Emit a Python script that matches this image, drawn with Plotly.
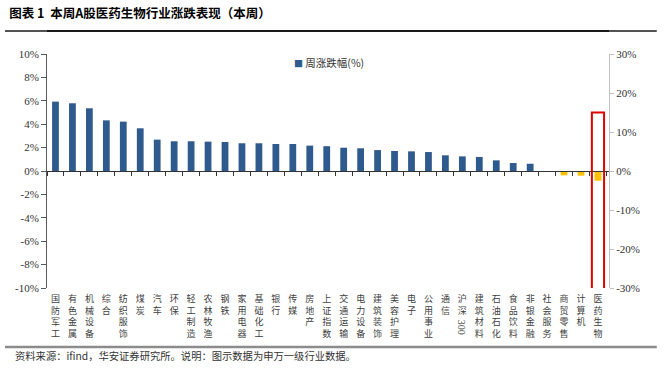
import plotly.graph_objects as go

categories = ["国防军工", "有色金属", "机械设备", "综合", "纺织服饰", "煤炭", "汽车", "环保",
              "轻工制造", "农林牧渔", "钢铁", "家用电器", "基础化工", "银行", "传媒", "房地产",
              "上证指数", "交通运输", "电力设备", "建筑装饰", "美容护理", "电子", "公用事业", "通信",
              "沪深300", "建筑材料", "石油石化", "食品饮料", "非银金融", "社会服务", "商贸零售",
              "计算机", "医药生物"]
weekly_change = [5.93, 5.79, 5.36, 4.33, 4.22, 3.65, 2.68, 2.54,
                 2.54, 2.51, 2.48, 2.37, 2.37, 2.31, 2.31, 2.17,
                 2.12, 1.99, 1.94, 1.79, 1.71, 1.68, 1.62, 1.34,
                 1.25, 1.20, 0.91, 0.68, 0.62, -0.08, -0.37,
                 -0.40, -0.83]
y_tick_vals = [10, 8, 6, 4, 2, 0, -2, -4, -6, -8, -10]
y_tick_text = ["10%", "8%", "6%", "4%", "2%", "0%", "-2%", "-4%", "-6%", "-8%", "-10%"]
y2_tick_vals = [30, 20, 10, 0, -10, -20, -30]
y2_tick_text = ["30%", "20%", "10%", "0%", "-10%", "-20%", "-30%"]
series_name = "周涨跌幅(%)"
highlight = "医药生物"

BLUE = "#2F5A8E"
YELLOW = "#FFC000"

# paper area spans y=31px (title rule) to y=288px; the axes occupy the lower 234px
PAPER_H = 257.0
Y_DOMAIN_TOP = 234.0 / PAPER_H


def py(px):
    """pixel row -> paper fraction"""
    return (288.0 - px) / PAPER_H


def stack(label):
    # CJK characters stacked vertically; a Latin/digit run is drawn rotated separately
    cjk = "".join(ch for ch in label if not ch.isdigit())
    return "<br>".join(list(cjk))


def digit_run(label):
    return "".join(ch for ch in label if ch.isdigit())


tick_text = [stack(c) for c in categories]
colors = [BLUE if v >= 0 else YELLOW for v in weekly_change]

fig = go.Figure()
fig.add_trace(go.Bar(x=categories, y=weekly_change, marker=dict(color=colors, line=dict(width=0)),
                     width=0.4, showlegend=False, hoverinfo="skip"))
# helper traces for the zero-line axis, the title-rule axis and the right axis
fig.add_trace(go.Scatter(x=categories, y=weekly_change, xaxis="x2", yaxis="y", mode="markers",
                         marker=dict(opacity=0), showlegend=False, hoverinfo="skip"))
fig.add_trace(go.Scatter(x=categories, y=weekly_change, xaxis="x3", yaxis="y", mode="markers",
                         marker=dict(opacity=0), showlegend=False, hoverinfo="skip"))
fig.add_trace(go.Scatter(x=categories, y=[v * 3 for v in weekly_change], yaxis="y2", mode="markers",
                         marker=dict(opacity=0), showlegend=False, hoverinfo="skip"))

n = len(categories)
xr = [-0.5, n - 0.5 + 0.15]

fig.update_layout(
    width=664, height=377,
    margin=dict(l=47, r=55, t=31, b=89),
    paper_bgcolor="white", plot_bgcolor="rgba(0,0,0,0)",
    showlegend=False,
    xaxis=dict(type="category", categoryorder="array", categoryarray=categories, range=xr,
               tickvals=categories, ticktext=tick_text, showline=False, showgrid=False,
               zeroline=False, ticks="", ticklabelstandoff=4,
               tickfont=dict(family="Noto Sans CJK SC", size=9, color="#404040")),
    xaxis2=dict(type="category", categoryorder="array", categoryarray=categories, range=xr,
                overlaying="x", anchor="free", position=Y_DOMAIN_TOP / 2, side="bottom",
                showline=True, linecolor="#333333", linewidth=1, ticks="outside",
                tickson="boundaries", ticklen=4, tickcolor="#333333", showticklabels=False,
                showgrid=False, zeroline=False),
    xaxis3=dict(type="category", categoryorder="array", categoryarray=categories, range=xr,
                overlaying="x", anchor="free", position=1.0, side="top",
                showline=True, linecolor="#1A1A1A", linewidth=1.5, ticks="",
                showticklabels=False, showgrid=False, zeroline=False),
    yaxis=dict(range=[-10, 10], domain=[0, Y_DOMAIN_TOP], tickvals=y_tick_vals, ticktext=y_tick_text,
               showline=True, linecolor="#595959", linewidth=1, ticks="outside", ticklen=5,
               tickcolor="#595959", showgrid=False, zeroline=False,
               tickfont=dict(family="Liberation Serif", size=11, color="#333333")),
    yaxis2=dict(range=[-30, 30], domain=[0, Y_DOMAIN_TOP], tickvals=y2_tick_vals,
                ticktext=y2_tick_text, overlaying="y", anchor="x",
                side="right", showline=True, linecolor="#BFBFBF", linewidth=1, ticks="outside",
                ticklen=4, tickcolor="#BFBFBF", showgrid=False, zeroline=False,
                tickfont=dict(family="Liberation Serif", size=11, color="#333333")),
    title=dict(text="图表 1  本周A股医药生物行业涨跌表现（本周）", x=0.014, xanchor="left",
               y=0.964, yanchor="middle", xref="container", yref="container",
               font=dict(family="Noto Sans CJK SC", size=12.5, color="#000000", weight="bold")),
)

# rotated digit runs (e.g. "300" in 沪深300)
for c in categories:
    d = digit_run(c)
    if d:
        nlines = len(stack(c).split("<br>"))
        fig.add_annotation(xref="x", yref="paper", x=c, y=py(317.5 + 11.7 * (nlines - 2)),
                           text=d, textangle=90, showarrow=False, xanchor="center", yanchor="top",
                           font=dict(family="Liberation Serif", size=10, color="#404040"))

# legend as text
fig.add_annotation(xref="paper", yref="paper", x=0.501, y=py(62), xanchor="center", yanchor="middle",
                   text=f"<span style='color:{BLUE};font-size:9px'>■</span> {series_name}",
                   showarrow=False, font=dict(family="Noto Sans CJK SC", size=10.5, color="#333333"))

# footer text
fig.add_annotation(xref="paper", yref="paper", x=-0.061, y=py(355.7), xanchor="left", yanchor="middle",
                   text="资料来源：ifind，华安证券研究所。说明：图示数据为申万一级行业数据。",
                   showarrow=False, font=dict(family="Noto Sans CJK SC", size=10.3, color="#333333"))

# title rule and footer rule
fig.add_shape(type="line", xref="paper", yref="paper", x0=-0.0747, x1=1.085, y0=1.0, y1=1.0,
              line=dict(color="#1A1A1A", width=1.5))
fig.add_shape(type="line", xref="paper", yref="paper", x0=-0.0747, x1=1.085, y0=py(347), y1=py(347),
              line=dict(color="#8C8C8C", width=2.5))

# highlight box around the 医药生物 category
hi = categories.index(highlight)
fig.add_shape(type="rect", xref="x", yref="y", x0=hi - 0.36, x1=hi + 0.36, y0=5, y1=-14.8,
              line=dict(color="#E00000", width=2), fillcolor="rgba(0,0,0,0)")

fig.write_html("out.html", config={"displayModeBar": False},
               post_script="document.body.style.margin='0';")
